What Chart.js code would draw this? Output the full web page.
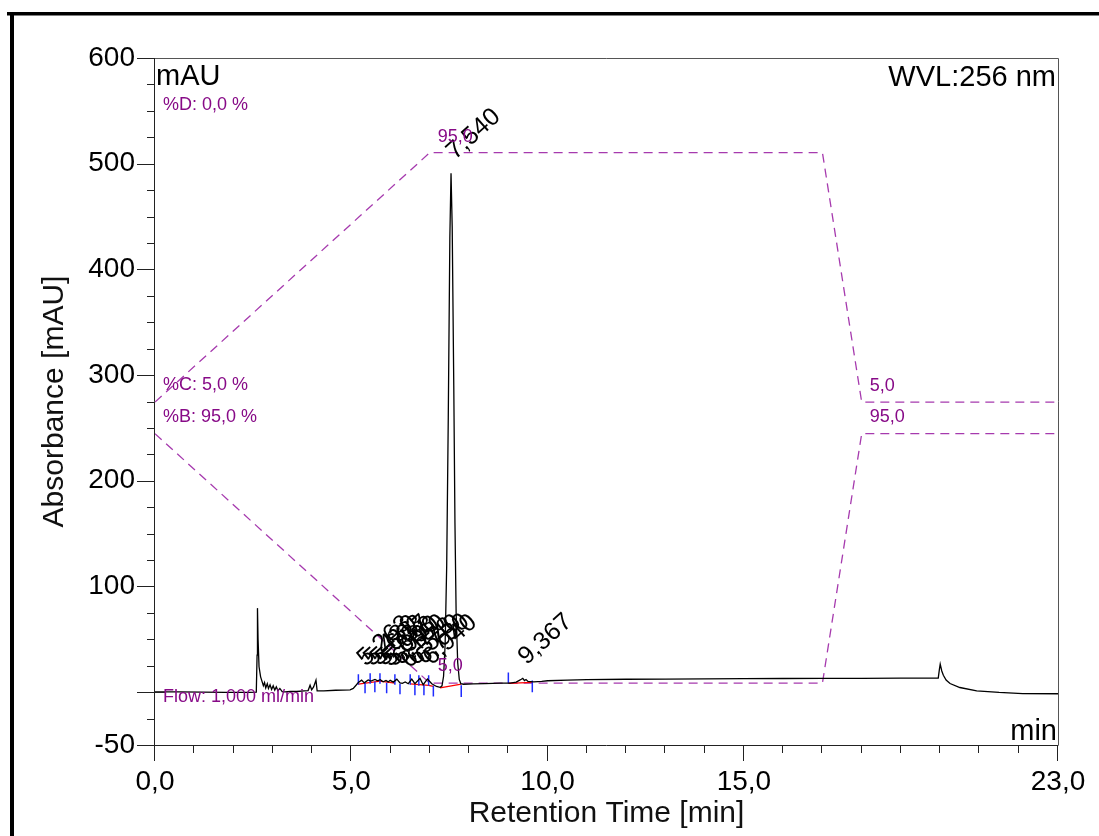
<!DOCTYPE html>
<html>
<head>
<meta charset="utf-8">
<title>Chromatogram 256 nm</title>
<script src="https://cdn.jsdelivr.net/npm/chart.js@4.4.1/dist/chart.umd.min.js"></script>
<style>
  html, body { margin: 0; padding: 0; background: #fff; }
  #chromatogram { display: block; }
</style>
</head>
<body>
<canvas id="chromatogram" width="1099" height="836"></canvas>
<script>
"use strict";

const FONT = "Arial, 'Liberation Sans', sans-serif";
const PURPLE_TEXT = '#870a87';
const PURPLE_LINE = '#a63aae';

// UV trace (min / mAU)
const traceTime = [
  0.00, 0.60, 1.20, 1.80, 2.40, 2.58, 2.60, 2.61, 2.625, 2.65, 2.69, 2.73, 2.76, 2.79, 2.82,
  2.86, 2.89, 2.93, 2.97, 3.01, 3.05, 3.09, 3.13, 3.18, 3.24, 3.31, 3.45, 3.61, 3.80, 3.90,
  3.95, 3.99, 4.04, 4.10, 4.13, 4.30, 4.60, 4.97, 5.05, 5.12, 5.18, 5.263, 5.33, 5.430, 5.50,
  5.603, 5.67, 5.737, 5.81, 5.883, 5.94, 5.990, 6.07, 6.160, 6.24, 6.30, 6.373, 6.45, 6.540, 6.62,
  6.750, 6.83, 6.940, 7.05, 7.17, 7.26, 7.31, 7.35, 7.39, 7.43, 7.47, 7.51, 7.540, 7.57, 7.61,
  7.64, 7.67, 7.71, 7.75, 7.79, 7.86, 8.10, 8.40, 8.80, 9.05, 9.20, 9.28, 9.33, 9.367, 9.41,
  9.45, 9.50, 9.65, 9.85, 10.00, 10.50, 11.00, 12.00, 13.00, 14.00, 15.00, 16.00, 17.00, 18.00, 19.00,
  19.95, 19.98, 20.00, 20.04, 20.08, 20.15, 20.25, 20.50, 20.93, 21.50, 22.10, 23.00
];
const traceAbs = [
  0.3, 0.2, 0.0, -0.2, -0.3, 0.0, 35, 79.5, 50, 24, 14.5, 9.7, 6, 9, 4,
  8, 3.5, 7, 2.5, 6, 2, 5, 1.5, 3.5, 0.5, 0.3, 0.6, 0.6, 1.2, 1.5,
  6.6, 2.2, 5, 11.4, 1.3, 1.3, 1.8, 2.2, 3.5, 6.5, 9.2, 11.4, 8.8, 11.6, 10.5,
  12.0, 10.8, 11.8, 9.8, 11.0, 9.7, 11.2, 9.5, 12.3, 8.8, 8.4, 9.6, 8.0, 12.3, 8.0,
  13.0, 7.0, 12.5, 8.0, 5.4, 4.5, 6, 15, 45, 120, 260, 430, 491, 440, 290,
  160, 75, 28, 12, 8, 7.5, 7.8, 8.1, 8.5, 8.6, 9.5, 11.2, 12.2, 13.0, 11.0,
  12.0, 10.2, 9.8, 10.2, 10.8, 11.3, 11.8, 12.2, 12.4, 12.6, 12.8, 12.9, 13.0, 13.1, 13.3,
  13.4, 21.8, 26.5, 20, 16, 11.5, 8.2, 4.4, 1.3, -0.3, -1.3, -1.5
];

// integrated peaks (retention times, labelled above the apex)
const peakTime = [5.263, 5.430, 5.603, 5.737, 5.883, 5.990, 6.160, 6.373, 6.540, 6.750, 6.940, 7.540, 9.367];

// peak delimiters and integration baselines
const delimTime = [5.18, 5.35, 5.48, 5.60, 5.73, 5.90, 6.11, 6.24, 6.50, 6.62, 6.72, 6.85, 6.97, 7.09, 7.80, 9.00, 9.61];
const delimLow  = [7, -1, 8, 0, 8, -1, 7, -2, 7, -3, 6, -3, 6, -4, -4.5, 8.5, 0];
const delimHigh = [17, 9, 18, 10, 18, 9, 17, 8, 17, 7, 16, 7, 16, 6, 6.5, 18.5, 11];
const baselineTime = [5.18, 5.73, 6.11, 6.11, 6.50, 6.97, 7.09, 7.09, 7.26, 7.80, 7.80, 9.00, 9.61];
const baselineAbs  = [7.5, 10.5, 8.5, null, 7.8, 6.5, 5.5, null, 4.0, 7.5, null, 8.3, 9.3];

// pump gradient (%)
const gradTime = [0, 7, 17, 18, 23];
const gradC = [5, 95, 95, 5, 5];
const gradB = [95, 5, 5, 95, 95];
const gradLabelTime = [7, 18];

// tick labels
const xLabelValues = [0, 5, 10, 15, 23];
const yLabelValues = [-50, 100, 200, 300, 400, 500, 600];

// gradient overlay placement on the mAU axis
const GRAD_SCALE = 2.623;
const GRAD_OFFSET_C = 261.3;
const GRAD_OFFSET_B = -4.6;

const comma = (v, d) => v.toFixed(d).replace('.', ',');
const points = (xs, ys) => xs.map((t, i) => ({ x: t, y: ys[i] }));

const chromatogramDecor = {
  id: 'chromatogramDecor',
  afterDraw(chart) {
    const { ctx, chartArea: a, scales: { x, y } } = chart;
    ctx.save();

    // page frame
    ctx.fillStyle = '#000';
    ctx.fillRect(7, 12, 1092, 3.5);
    ctx.fillRect(10, 12, 4, 824);

    // plot box
    ctx.lineWidth = 1;
    ctx.strokeStyle = '#555';
    ctx.beginPath();
    ctx.moveTo(a.left, a.top + 0.5);
    ctx.lineTo(a.right + 0.5, a.top + 0.5);
    ctx.lineTo(a.right + 0.5, a.bottom);
    ctx.stroke();
    ctx.strokeStyle = '#222';
    ctx.beginPath();
    ctx.moveTo(a.left - 0.5, a.top);
    ctx.lineTo(a.left - 0.5, a.bottom + 0.5);
    ctx.lineTo(a.right + 0.5, a.bottom + 0.5);
    ctx.stroke();

    // axis ticks
    ctx.beginPath();
    y.ticks.forEach(t => {
      const py = Math.round(y.getPixelForValue(t.value)) + 0.5;
      const major = t.label !== '' || t.value === 0;
      ctx.moveTo(a.left - (major ? 18 : 8), py);
      ctx.lineTo(a.left + (t.value === 0 ? 10 : 0), py);
    });
    x.ticks.forEach(t => {
      const px = Math.round(x.getPixelForValue(t.value)) - 0.5;
      const major = t.label !== '';
      ctx.moveTo(px, a.bottom - (t.value === 0 ? 15 : 0));
      ctx.lineTo(px, a.bottom + (major ? 16 : 8));
    });
    ctx.stroke();

    // corner captions
    ctx.fillStyle = '#000';
    ctx.font = `29px ${FONT}`;
    ctx.textBaseline = 'alphabetic';
    ctx.textAlign = 'left';
    ctx.fillText('mAU', a.left + 1, a.top + 27);
    ctx.textAlign = 'right';
    ctx.fillText('WVL:256 nm', a.right - 2, a.top + 28);
    ctx.fillText('min', a.right - 1, a.bottom - 5);

    // peak retention times
    ctx.font = `25px ${FONT}`;
    ctx.textAlign = 'left';
    peakTime.forEach(t => {
      const v = traceAbs[traceTime.indexOf(t)];
      ctx.save();
      ctx.translate(x.getPixelForValue(t) + 4, y.getPixelForValue(v) - 13);
      ctx.rotate(-42 * Math.PI / 180);
      ctx.fillText(comma(t, 3), 0, 0);
      ctx.restore();
    });

    // gradient annotations
    ctx.fillStyle = PURPLE_TEXT;
    ctx.font = `18px ${FONT}`;
    const gy = (p, off) => y.getPixelForValue(off + p * GRAD_SCALE);
    ctx.fillText(`%D: ${comma(0, 1)} %`, a.left + 8, gy(0, 539) - 12);
    ctx.fillText(`%C: ${comma(gradC[0], 1)} %`, a.left + 8, gy(gradC[0], GRAD_OFFSET_C) - 12);
    ctx.fillText(`%B: ${comma(gradB[0], 1)} %`, a.left + 8, gy(gradB[0], GRAD_OFFSET_B) - 12);
    ctx.fillText('Flow: 1,000 ml/min', a.left + 8, y.getPixelForValue(-9.5));
    gradLabelTime.forEach(t => {
      const i = gradTime.indexOf(t);
      const px = x.getPixelForValue(t) + 8;
      ctx.fillText(comma(gradC[i], 1), px, gy(gradC[i], GRAD_OFFSET_C) - 11);
      ctx.fillText(comma(gradB[i], 1), px, gy(gradB[i], GRAD_OFFSET_B) - 12);
    });

    ctx.restore();
  }
};

class Chromatogram {

  #chart;

  #datasets() {
    const delimiters = [];
    delimTime.forEach((t, i) => {
      delimiters.push({ x: t, y: delimLow[i] }, { x: t, y: delimHigh[i] }, { x: t, y: null });
    });
    const line = { pointRadius: 0, tension: 0, fill: false, spanGaps: false };
    return [
      { ...line, label: 'UV_VIS_1', data: points(traceTime, traceAbs), borderColor: '#000', borderWidth: 1.3, order: 0 },
      { ...line, label: 'delimiters', data: delimiters, borderColor: '#1f2cff', borderWidth: 1.5, order: 1 },
      { ...line, label: 'baseline', data: points(baselineTime, baselineAbs), borderColor: '#f00', borderWidth: 1.3, order: 2 },
      { ...line, label: '%C', data: gradTime.map((t, i) => ({ x: t, y: GRAD_OFFSET_C + gradC[i] * GRAD_SCALE })),
        borderColor: PURPLE_LINE, borderWidth: 1.3, borderDash: [9, 6], order: 3 },
      { ...line, label: '%B', data: gradTime.map((t, i) => ({ x: t, y: GRAD_OFFSET_B + gradB[i] * GRAD_SCALE })),
        borderColor: PURPLE_LINE, borderWidth: 1.3, borderDash: [9, 6], order: 3 },
    ];
  }

  #options() {
    return {
      responsive: false,
      animation: false,
      events: [],
      layout: { padding: { top: 58, right: 41, left: 0, bottom: 0 } },
      plugins: { legend: { display: false }, tooltip: { enabled: false } },
      scales: {
        x: {
          type: 'linear',
          min: 0,
          max: 23,
          afterFit: s => { s.height = 91; },
          border: { display: false },
          grid: { drawOnChartArea: false, color: 'rgba(0,0,0,0)', tickLength: 16 },
          ticks: {
            stepSize: 1,
            autoSkip: false,
            maxRotation: 0,
            padding: 4,
            color: '#000',
            font: { size: 28 },
            callback: v => xLabelValues.includes(v) ? comma(v, 1) : '',
          },
          title: {
            display: true,
            text: 'Retention Time [min]',
            color: '#111',
            font: { size: 30 },
            padding: { top: 0, bottom: 4 },
          },
        },
        y: {
          type: 'linear',
          min: -50,
          max: 600,
          afterFit: s => { s.width = 155; },
          border: { display: false },
          grid: { drawOnChartArea: false, color: 'rgba(0,0,0,0)', tickLength: 18 },
          ticks: {
            stepSize: 25,
            autoSkip: false,
            padding: 2,
            color: '#000',
            font: { size: 28 },
            callback: v => yLabelValues.includes(v) ? String(v) : '',
          },
          title: {
            display: true,
            text: 'Absorbance [mAU]',
            color: '#111',
            font: { size: 30 },
            padding: { top: 37, bottom: 0 },
          },
        },
      },
    };
  }

  #config() {
    return {
      type: 'line',
      data: { datasets: this.#datasets() },
      options: this.#options(),
      plugins: [chromatogramDecor],
    };
  }

  render(container) {
    if (this.#chart) this.#chart.destroy();
    this.#chart = new Chart(document.getElementById(container), this.#config());
  }
}

Chart.defaults.font.family = FONT;
new Chromatogram().render('chromatogram');
</script>
</body>
</html>
